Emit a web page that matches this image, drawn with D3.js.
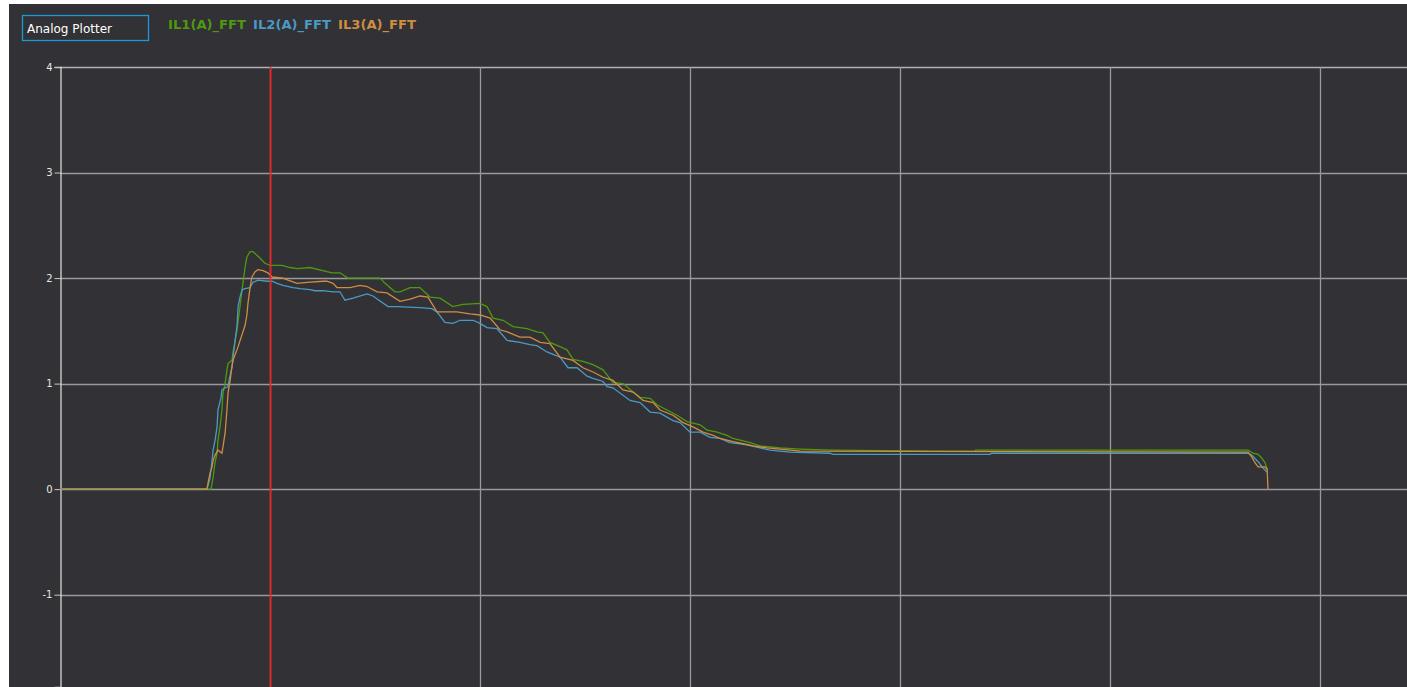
<!DOCTYPE html>
<html>
<head>
<meta charset="utf-8">
<script src="https://cdn.jsdelivr.net/npm/d3@7"></script>
<style>
  body { margin: 0; background: #ffffff; }
  svg { display: block; }
</style>
</head>
<body>
<svg id="plot" width="1407" height="687"></svg>
<script>
// series labels and colours
const seriesNames = ["IL1(A)_FFT", "IL2(A)_FFT", "IL3(A)_FFT"];
const seriesColors = ["#4f9a0c", "#4c9ac4", "#cf8d43"];

// y ticks
const yTicks = [-1, 0, 1, 2, 3, 4];
// vertical grid (sample index)
const xGrid = [100, 200, 300, 400, 500, 600];
const cursorX = 100;

// [sample, amps]
const il1 = [[0,0],[71.9,0],[72.9,0.11],[73.8,0.25],[74.8,0.34],[75.2,0.46],[76.2,0.59],[77.1,0.75],[77.6,0.91],[78.6,1.0],
  [79.5,1.13],[80,1.19],[81.9,1.22],[82.4,1.3],[84.3,1.51],[85.7,1.73],[87.1,1.95],[88.1,2.1],[89,2.2],[90.5,2.25],[91.9,2.25],
  [95.2,2.19],[97.6,2.14],[100,2.12],[105.7,2.12],[109.5,2.1],[112.9,2.09],[119,2.1],[127.1,2.06],[129.5,2.05],[133.3,2.05],
  [137.1,2.0],[152.4,2.0],[154.8,1.95],[159.5,1.87],[161.9,1.87],[166.7,1.91],[171.4,1.91],[176.2,1.82],[181,1.81],[187.1,1.73],
  [191.9,1.75],[200,1.76],[203.3,1.73],[206.2,1.62],[211,1.6],[215.7,1.54],[222.4,1.52],[227.1,1.49],[230,1.48],[233.3,1.39],
  [238.1,1.35],[241.4,1.32],[244.3,1.23],[249,1.21],[253.8,1.18],[258.6,1.13],[263.3,1.01],[268.1,1.0],[272.9,0.92],[276.2,0.87],
  [281,0.86],[284.3,0.8],[289,0.75],[293.8,0.7],[298.6,0.64],[304.8,0.61],[308.1,0.56],[312.9,0.54],[317.6,0.51],[320.5,0.48],
  [328.6,0.44],[333.3,0.41],[338.1,0.4],[342.9,0.39],[352.4,0.38],[368.1,0.37],[414.3,0.36],[435.7,0.36],[436,0.37],[565.7,0.37],
  [568.1,0.34],[570.5,0.33],[572.4,0.29],[573.8,0.25],[575,0.18]];

const il2 = [[0,0],[70,0],[71.4,0.1],[72.4,0.27],[72.9,0.37],[73.8,0.46],[74.8,0.59],[75.2,0.75],[76.7,0.87],[77.1,0.94],
  [78.6,0.96],[80,0.97],[80.5,1.03],[81.9,1.16],[82.4,1.25],[84.3,1.55],[84.8,1.73],[85.7,1.82],[86.7,1.89],[88.1,1.9],[90.5,1.91],
  [91.9,1.96],[94.3,1.98],[98.6,1.97],[101,1.97],[103.3,1.95],[106.2,1.93],[111,1.91],[114.3,1.9],[119,1.89],[121.4,1.88],
  [125.2,1.88],[130,1.87],[133.3,1.87],[135.7,1.79],[139.5,1.81],[146.2,1.85],[149,1.83],[156.2,1.73],[160.5,1.73],[171.4,1.72],
  [177.1,1.71],[179.5,1.68],[183.3,1.58],[187.1,1.57],[190.5,1.6],[196.7,1.6],[200,1.57],[203.3,1.53],[208.1,1.52],[212.9,1.41],
  [219,1.39],[223.8,1.37],[227.1,1.36],[231.9,1.3],[235.7,1.27],[238.1,1.25],[241.9,1.15],[246.2,1.15],[251,1.07],[253.8,1.05],
  [258.6,1.02],[260.5,0.97],[263.3,0.96],[271.4,0.84],[276.2,0.82],[281,0.73],[285.7,0.72],[291.9,0.65],[295.2,0.63],[300,0.54],
  [304.8,0.54],[309.5,0.49],[314.3,0.48],[319,0.44],[323.8,0.43],[327.1,0.42],[333.3,0.39],[338.1,0.37],[347.6,0.35],[366.7,0.34],
  [368.1,0.33],[442.9,0.33],[443.3,0.34],[565.7,0.34],[567.6,0.32],[569,0.29],[570.5,0.26],[572.4,0.21],[574.8,0.16]];

const il3 = [[0,0],[70,0],[70.5,0.06],[71.4,0.15],[72.4,0.21],[72.9,0.27],[73.8,0.32],[75.2,0.37],[77.1,0.34],[77.6,0.4],
  [78.6,0.53],[79.5,0.75],[80,0.91],[81,1.03],[81.9,1.16],[82.4,1.22],[84.8,1.35],[88.1,1.55],[89,1.65],[89.5,1.76],[90.5,1.91],
  [91.4,2.01],[92.9,2.06],[94.3,2.08],[96.7,2.07],[99,2.05],[101,2.01],[106.2,2.0],[108.6,1.98],[112.9,1.95],[117.6,1.96],
  [125.2,1.97],[127.1,1.97],[130,1.95],[131.9,1.91],[138.1,1.91],[142.9,1.93],[146.2,1.92],[151,1.87],[155.7,1.86],[161.9,1.78],
  [166.7,1.8],[171.4,1.83],[175.2,1.82],[179.5,1.68],[189,1.68],[195.2,1.66],[200,1.65],[204.8,1.62],[209.5,1.51],[212.9,1.49],
  [219,1.44],[223.8,1.44],[228.6,1.39],[233.3,1.38],[238.1,1.25],[244.3,1.22],[249,1.15],[253.8,1.11],[258.6,1.06],[263.3,1.03],
  [268.1,0.94],[272.9,0.92],[277.6,0.84],[282.4,0.82],[285.7,0.75],[291.9,0.7],[296.7,0.63],[301.4,0.59],[306.2,0.54],[311,0.51],
  [314.3,0.48],[320.5,0.45],[325.2,0.43],[330,0.41],[336.7,0.39],[342.9,0.38],[352.4,0.36],[565.7,0.35],[567.6,0.3],[569,0.25],
  [570.5,0.21],[573.8,0.21],[574.8,0.19],[575.2,0]];

const svg = d3.select("#plot"),
    width = +svg.attr("width"),
    height = +svg.attr("height");

// dark panel
svg.append("rect").attr("x", 9).attr("y", 4).attr("width", width - 9).attr("height", height - 4)
    .attr("fill", "#313136");

const x = d3.scaleLinear().domain([0, 641.4]).range([60, width]);
const y = d3.scaleLinear().domain([-1.875, 4]).range([height, 67]);

// horizontal grid
svg.append("g").selectAll("line")
    .data(yTicks).enter().append("line")
    .attr("x1", 60).attr("x2", width)
    .attr("y1", d => Math.round(y(d)) + 0.5).attr("y2", d => Math.round(y(d)) + 0.5)
    .attr("stroke", d => d === 4 ? "#b4b4b4" : "#9a9a9a")
    .attr("stroke-width", 1.3);

// vertical grid
svg.append("g").selectAll("line")
    .data(xGrid).enter().append("line")
    .attr("x1", d => Math.round(x(d)) + 0.5).attr("x2", d => Math.round(x(d)) + 0.5)
    .attr("y1", 67).attr("y2", height)
    .attr("stroke", "#9a9a9a")
    .attr("stroke-width", 1.3);

// y axis (plain hyphen for negatives, like the original)
const yAxis = d3.axisLeft(y).tickValues(yTicks).tickSize(6).tickPadding(2).tickFormat(d => String(d));
const ag = svg.append("g").attr("transform", "translate(60.5,0)").call(yAxis);
ag.select(".domain").attr("stroke", "#d6d6d6").attr("stroke-width", 1.3);
ag.selectAll(".tick line").attr("stroke", "#c8c8c8");
ag.selectAll(".tick text").attr("fill", "#e6e6e6")
    .style("font-family", "DejaVu Sans").style("font-size", "10px");

// traces
const line = d3.line().x(d => x(d[0])).y(d => y(d[1]));
[il1, il2, il3].forEach((s, i) => {
    svg.append("path")
        .datum(s)
        .attr("d", line)
        .attr("fill", "none")
        .attr("stroke", seriesColors[i])
        .attr("stroke-width", 1.3);
});

// cursor
svg.append("line")
    .attr("x1", Math.round(x(cursorX)) + 0.5).attr("x2", Math.round(x(cursorX)) + 0.5)
    .attr("y1", 67).attr("y2", height)
    .attr("stroke", "#ff1a1a").attr("stroke-width", 1.5);

// title box
svg.append("rect").attr("x", 22.5).attr("y", 15.5).attr("width", 126).attr("height", 25)
    .attr("fill", "#313136").attr("stroke", "#1a9ad6").attr("stroke-width", 1.3);
svg.append("text").attr("x", 27).attr("y", 32.5)
    .attr("fill", "#ffffff")
    .style("font-family", "DejaVu Sans").style("font-size", "12px")
    .attr("textLength", 85).attr("lengthAdjust", "spacingAndGlyphs")
    .text("Analog Plotter");

// legend
const legendX = [168, 253, 338];
svg.append("g").selectAll("text")
    .data(seriesNames).enter().append("text")
    .attr("x", (d, i) => legendX[i])
    .attr("y", 29)
    .attr("fill", (d, i) => seriesColors[i])
    .style("font-family", "DejaVu Sans").style("font-size", "12px").style("font-weight", "bold")
    .attr("textLength", 78).attr("lengthAdjust", "spacingAndGlyphs")
    .text(d => d);
</script>
</body>
</html>
